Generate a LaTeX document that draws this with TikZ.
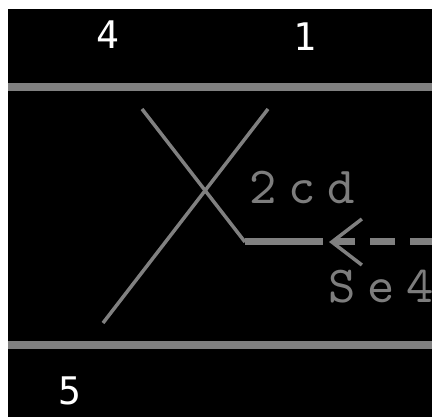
\documentclass[tikz,border=0pt]{standalone}
\usepackage{fontspec}
\newfontfamily\digitfont{DejaVu Sans Mono}
\newfontfamily\tagfont{lmmono10-regular}[Extension=.otf, LetterSpace=23]
\usetikzlibrary{arrows.meta,positioning}
\definecolor{railgray}{RGB}{128,128,128}
\definecolor{taggray}{RGB}{125,125,125}

\begin{document}
\begin{tikzpicture}
  [
    x=1pt, y=-1pt,
    rail/.style={draw=railgray, line width=8pt},
    wire/.style={draw=railgray, line width=3.5pt},
    feed/.style={draw=railgray, line width=7pt},
    number/.style={text=white, font=\digitfont\fontsize{38}{38}\selectfont, inner sep=0pt},
    tag/.style={text=taggray, font=\tagfont\fontsize{52}{52}\selectfont, inner sep=0pt, anchor=base west},
    signal/.style={draw=railgray, line width=7pt, dash pattern=on 25pt off 15pt,
      -{Straight Barb[length=30pt,width=46pt,line width=3.5pt]}}
  ]
  \path[use as bounding box, fill=white] (0,0) rectangle (432,417);
  \fill[black] (8,9) rectangle (432,417);

  % track numbers
  \node (n4) [number] at (107.5,34.5) {4};
  \node (n1) [number] at (305,36.5) {1};
  \node (n5) [number] at (69.5,391) {5};

  % rails
  \coordinate (topw) at (8,87.5);
  \coordinate (tope) at (432,87.5);
  \coordinate (botw) at (8,345);
  \coordinate (bote) at (432,345);
  \draw [rail] (topw) -- (tope);
  \draw [rail] (botw) -- (bote);

  % crossing
  \coordinate (xa) at (142,109);
  \coordinate (xb) at (245,242);
  \coordinate (xc) at (323,242);
  \coordinate (ya) at (268,109);
  \coordinate (yb) at (103,323);
  \draw [wire] (xa) -- (xb);
  \draw [feed] (xb) -- (xc);
  \draw [wire] (ya) -- (yb);

  % signal
  \coordinate (sigfar) at (435,242);
  \coordinate (sigtip) at (329,242);
  \draw [signal] (sigfar) -- (sigtip);

  \node (t2cd) [tag] at (249,204) {2cd};
  \node (tse4) [tag] at (328,303) {Se4};
\end{tikzpicture}
\end{document}
